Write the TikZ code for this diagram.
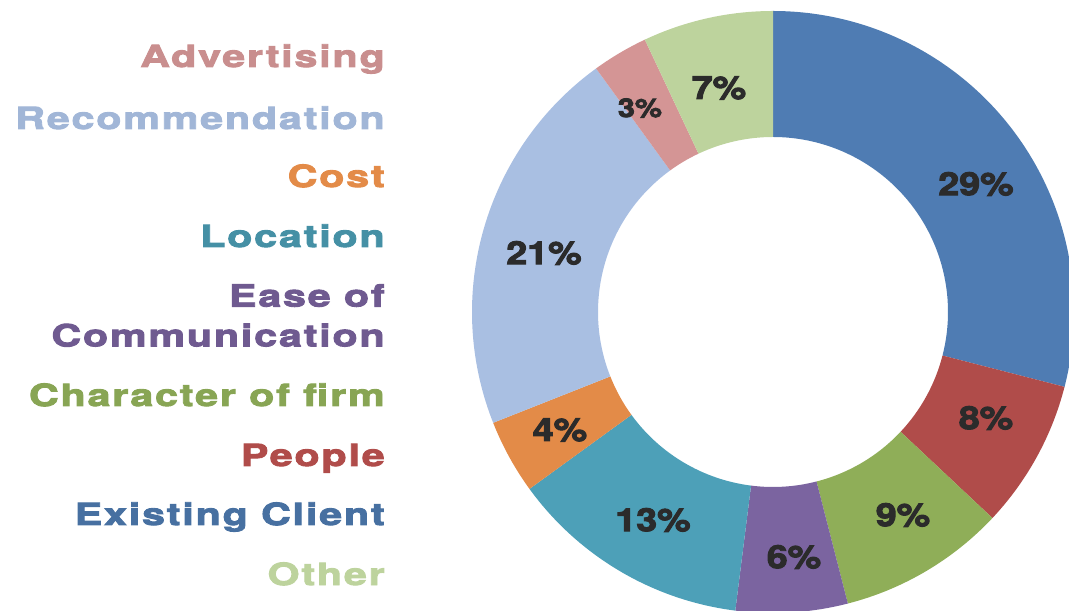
\documentclass[tikz,border=0pt]{standalone}
\usepackage{fontspec}
\newfontfamily\heavyfont{TeX Gyre Heros}[FakeStretch=1.18,FakeBold=3]
\newfontfamily\spacedfont{TeX Gyre Heros}[FakeStretch=1.35,FakeBold=3,LetterSpace=6]

\definecolor{clientblue}{HTML}{4F7CB3}
\definecolor{peoplered}{HTML}{B04C4A}
\definecolor{firmgreen}{HTML}{8FAE58}
\definecolor{easepurple}{HTML}{7B64A0}
\definecolor{locteal}{HTML}{4DA0B8}
\definecolor{costorange}{HTML}{E38B48}
\definecolor{recblue}{HTML}{A9BFE2}
\definecolor{advpink}{HTML}{D49595}
\definecolor{otherlime}{HTML}{BDD39D}
\definecolor{labelgray}{HTML}{2B2B2B}

\tikzset{
  catlabel/.style={anchor=base east, inner sep=0pt, font=\spacedfont\bfseries\fontsize{21.7}{28.3}\selectfont},
  pct/.style={inner sep=0pt, text=labelgray, font=\heavyfont\bfseries\fontsize{22.7}{26}\selectfont},
}

\begin{document}
\begin{tikzpicture}[x=0.025cm, y=0.025cm]
        \useasboundingbox (0,0) rectangle (1069,610);
        \clip (0,0) rectangle (1069,610);

        % ring
        \begin{scope}[shift={(773,298)}]
        \fill[clientblue] (90:301) arc[start angle=90, end angle=-14.4, radius=301] -- (-14.4:175) arc[start angle=-14.4, end angle=90, radius=175] -- cycle;
        \fill[peoplered] (-14.4:301) arc[start angle=-14.4, end angle=-43.2, radius=301] -- (-43.2:175) arc[start angle=-43.2, end angle=-14.4, radius=175] -- cycle;
        \fill[firmgreen] (-43.2:301) arc[start angle=-43.2, end angle=-75.6, radius=301] -- (-75.6:175) arc[start angle=-75.6, end angle=-43.2, radius=175] -- cycle;
        \fill[easepurple] (-75.6:301) arc[start angle=-75.6, end angle=-97.2, radius=301] -- (-97.2:175) arc[start angle=-97.2, end angle=-75.6, radius=175] -- cycle;
        \fill[locteal] (-97.2:301) arc[start angle=-97.2, end angle=-144, radius=301] -- (-144:175) arc[start angle=-144, end angle=-97.2, radius=175] -- cycle;
        \fill[costorange] (-144:301) arc[start angle=-144, end angle=-158.4, radius=301] -- (-158.4:175) arc[start angle=-158.4, end angle=-144, radius=175] -- cycle;
        \fill[recblue] (-158.4:301) arc[start angle=-158.4, end angle=-234, radius=301] -- (-234:175) arc[start angle=-234, end angle=-158.4, radius=175] -- cycle;
        \fill[advpink] (-234:301) arc[start angle=-234, end angle=-244.8, radius=301] -- (-244.8:175) arc[start angle=-244.8, end angle=-234, radius=175] -- cycle;
        \fill[otherlime] (-244.8:301) arc[start angle=-244.8, end angle=-270, radius=301] -- (-270:175) arc[start angle=-270, end angle=-244.8, radius=175] -- cycle;
        \end{scope}

        % percentages
        \node[pct] (pClient) at (976,426) {29\%};
        \node[pct] (pPeople) at (986,192) {8\%};
        \node[pct] (pFirm) at (903,95) {9\%};
        \node[pct] (pEase) at (794,53) {6\%};
        \node[pct] (pLoc) at (653,90) {13\%};
        \node[pct] (pCost) at (560,180) {4\%};
        \node[pct] (pRec) at (544,357) {21\%};
        \node[pct, font=\heavyfont\bfseries\fontsize{18.4}{22}\selectfont] (pAdv) at (640,502) {3\%};
        \node[pct] (pOther) at (719,522) {7\%};

        % legend
        \node[catlabel, text=advpink!95!black] (lAdv) at (385,543) {Advertising};
        \node[catlabel, text=recblue!95!black] (lRec) at (385,481) {Recommendation};
        \node[catlabel, text=costorange] (lCost) at (385,423) {Cost};
        \node[catlabel, text=locteal!90!black] (lLoc) at (385,363) {Location};
        \node[catlabel, text=easepurple!90!black, anchor=south east, align=right] (lEase) at (385,263) {Ease of\\Communication};
        \node[catlabel, text=firmgreen!95!black] (lFirm) at (385,204) {Character of firm};
        \node[catlabel, text=peoplered] (lPeople) at (385,144) {People};
        \node[catlabel, text=clientblue!90!black] (lClient) at (385,85) {Existing Client};
        \node[catlabel, text=otherlime] (lOther) at (385,25) {Other};
    \end{tikzpicture}
\end{document}
